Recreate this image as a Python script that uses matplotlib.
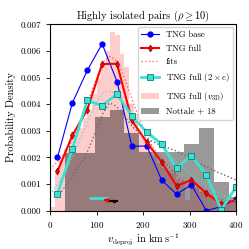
import matplotlib
matplotlib.use("Agg")
import matplotlib.pyplot as plt
import numpy as np

plt.rcParams['font.family'] = 'serif'
plt.rcParams['font.serif'] = ['cmr10', 'DejaVu Serif']
plt.rcParams['mathtext.fontset'] = 'cm'
plt.rcParams['axes.unicode_minus'] = False
plt.rcParams['axes.formatter.use_mathtext'] = True

# binned profiles (bin centres in km/s)
v_bins = [16, 48, 80, 112, 144, 176, 208, 240, 272, 304, 336, 368, 400]
tng_base = [0.00200, 0.00405, 0.00527, 0.00627, 0.00485, 0.00242, 0.00243,
            0.00115, 0.00062, 0.00097, 0.00000, 0.00015, 0.00043]
tng_full = [0.00148, 0.00283, 0.00379, 0.00551, 0.00552, 0.00339, 0.00257,
            0.00183, 0.00093, 0.00115, 0.00066, 0.00025, 0.00040]
tng_full_2e = [0.00063, 0.00232, 0.00414, 0.00395, 0.00438, 0.00355, 0.00295,
               0.00251, 0.00160, 0.00207, 0.00134, 0.00003, 0.00089]

# fit curves
fit_x = [0, 20, 40, 60, 80, 100, 115, 130, 145, 160, 180, 200, 220, 250, 280, 310, 340, 370, 400]
fit_full = [0.00155, 0.0019, 0.0024, 0.0031, 0.0040, 0.0050, 0.0056, 0.0058, 0.0056, 0.0050,
            0.0040, 0.0031, 0.0024, 0.00175, 0.0012, 0.00085, 0.00055, 0.0004, 0.0003]
fit_2e = [0.0006, 0.0011, 0.0017, 0.0025, 0.0033, 0.0041, 0.00445, 0.0045, 0.00435, 0.0040,
          0.0035, 0.00305, 0.0027, 0.0022, 0.0017, 0.00125, 0.0009, 0.0006, 0.00035]
fit_nx = [20, 40, 55, 75, 92, 103, 115, 128, 140, 150, 160, 180, 200, 220, 240, 270, 300, 330, 360, 400]
fit_nottale = [0.0006, 0.0011, 0.0015, 0.0020, 0.0027, 0.0032, 0.0037, 0.00405, 0.00395, 0.0038,
               0.00355, 0.0031, 0.0028, 0.0026, 0.00245, 0.00225, 0.0020, 0.0017, 0.00145, 0.00115]

# histograms
v3d_edges = np.arange(0, 410, 10)
v3d_hist = [0.00015, 0.0014, 0.0019, 0.0023, 0.0026, 0.0028, 0.0031, 0.0035, 0.0038, 0.0044,
            0.0050, 0.0055, 0.0060, 0.0067, 0.0066, 0.0059, 0.0054, 0.0040, 0.0036, 0.0030,
            0.0027, 0.0025, 0.0021, 0.0018, 0.0016, 0.0015, 0.0014, 0.0012, 0.0011, 0.0004,
            0.0010, 0.0009, 0.0007, 0.0007, 0.0006, 0.0004, 0.0002, 0.0003, 0.0004, 0.0003]
nottale_edges = np.arange(0, 448, 32)
nottale_hist = [0.0, 0.00217, 0.00217, 0.00353, 0.0038, 0.0029, 0.0022, 0.0022, 0.0022,
                0.0025, 0.0031, 0.00106, 0.0005]

# mean values with spread
mean_2e, spread_2e = 104, 20
mean_full, spread_full = 123, 6
mean_nottale, spread_nottale = 137, 10

fig = plt.figure(figsize=(2.49, 2.49), dpi=100)
ax = fig.add_axes([0.201, 0.154, 0.747, 0.748])

ax.stairs(v3d_hist, v3d_edges, fill=True, color='r', alpha=0.2, lw=0, label=r'TNG full ($v_{\rm 3D}$)')
ax.stairs(nottale_hist, nottale_edges, fill=True, color='k', alpha=0.4, lw=0, label='Nottale + 18')

ax.plot(v_bins, tng_base, '-o', color='b', lw=0.8, ms=3.5, label='TNG base')
ax.plot(v_bins, tng_full, '-d', color='r', lw=1.5, ms=3.5, mec='darkred', mew=0.5, label='TNG full')
ax.plot(fit_x, fit_full, ':', color='r', alpha=0.55, lw=1, label='fits')
ax.plot(fit_x, fit_2e, ':', color='turquoise', alpha=0.8, lw=1)
ax.plot(fit_nx, fit_nottale, ':', color='dimgray', lw=1)
ax.plot(v_bins, tng_full_2e, '-s', color='turquoise', lw=2, ms=4, mec='teal', mew=0.6,
        label=r'TNG full ($2\times e$)')

ax.errorbar(mean_2e, 0.00047, xerr=spread_2e, fmt='s', color='turquoise', ms=2, elinewidth=2, capsize=0)
ax.errorbar(mean_full, 0.00039, xerr=spread_full, fmt='d', color='r', ms=2, elinewidth=1.5, capsize=0)
ax.errorbar(mean_nottale, 0.00037, xerr=spread_nottale, fmt='o', color='k', ms=1.5, elinewidth=1.5, capsize=0)

ax.set_xlim(0, 400)
ax.set_ylim(0, 0.007)
ax.set_xticks([0, 100, 200, 300, 400])
ax.set_yticks(np.arange(0, 0.0071, 0.001))
ax.yaxis.set_major_formatter(matplotlib.ticker.FormatStrFormatter('%.3f'))
ax.tick_params(labelsize=6.5, length=3, width=0.6)
for s in ax.spines.values():
    s.set_linewidth(0.8)

ax.set_title(r'Highly isolated pairs ($\rho \geq 10$)', fontsize=7.5, pad=3)
ax.set_xlabel(r'$v_{\rm deproj}$ in km$\,$s$^{-1}$', fontsize=7.5, labelpad=1)
ax.set_ylabel('Probability Density', fontsize=7.5, labelpad=3)

handles, labels = ax.get_legend_handles_labels()
order = ['TNG base', 'TNG full', 'fits', r'TNG full ($2\times e$)', r'TNG full ($v_{\rm 3D}$)', 'Nottale + 18']
hl = dict(zip(labels, handles))
ax.legend([hl[k] for k in order], order, loc='upper right', fontsize=6.3, borderaxespad=0.3,
          handlelength=2.0, labelspacing=0.6, frameon=True, fancybox=True)

fig.savefig('out.png', dpi=100)
